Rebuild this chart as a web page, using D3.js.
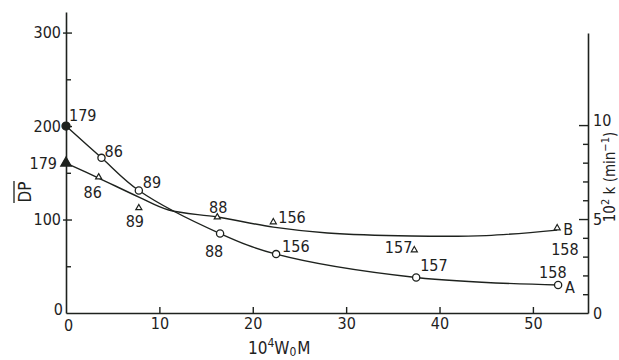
<!DOCTYPE html>
<html>
<head>
<meta charset="utf-8">
<script src="https://cdn.jsdelivr.net/npm/d3@7"></script>
<style>
  body { margin: 0; background: #fff; }
  svg { display: block; font-family: "DejaVu Sans Condensed", "Liberation Sans Narrow", sans-serif; }
</style>
</head>
<body>
<svg id="chart" width="619" height="360"></svg>
<script>
// curve A: DP (left axis), open circles ; curve B: 10^2 k (right axis), triangles
const wA = [0, 3.8, 7.8, 16.5, 22.5, 37.5, 52.7];
const dpA = [200, 166, 131, 85, 63, 38, 30];
const sampleA = ["179", "86", "89", "88", "156", "157", "158"];

const wB = [0, 3.5, 7.8, 16.2, 22.2, 37.3, 52.6];
const kB = [7.98, 7.23, 5.59, 5.1, 4.84, 3.35, 4.52];
const sampleB = ["179", "86", "89", "88", "156", "157", "158"];

// smoothed line drawn by hand through the triangles
const fitW = [0, 3.5, 7.8, 11, 16.2, 22.2, 28, 37, 45, 52.6];
const fitK = [7.98, 7.18, 6.17, 5.48, 5.11, 4.57, 4.26, 4.1, 4.12, 4.41];

const xTicks = [0, 10, 20, 30, 40, 50];
const dpTicks = [0, 50, 100, 150, 200, 250, 300];
const kTicks = [0, 1, 2, 3, 4, 5, 6, 7, 8, 9, 10];

// label placement next to each marker: [dx, dy, anchor]
const offA = [[3, -5, "start"], [3, -1, "start"], [4, -3, "start"], [-6, 23, "middle"],
  [6, -2, "start"], [4, -6, "start"], [-19, -7, "start"]];
const offB = [[-9, 6, "end"], [-6, 21, "middle"], [-4, 19, "middle"], [1, -4, "middle"],
  [5, 1, "start"], [-2, 3, "end"], [-6, 27, "start"]];

const ink = "#1e221e";
const svg = d3.select("#chart");

const x = d3.scaleLinear().domain([0, 55.9]).range([66, 588]);
const yL = d3.scaleLinear().domain([0, 322]).range([313, 12]);
const yR = d3.scaleLinear().domain([0, 14.9]).range([313, 33]);

function styleAxis(g) {
  g.attr("font-family", null).attr("font-size", 16);
  g.select(".domain").attr("stroke", ink).attr("stroke-width", 1.6);
  g.selectAll(".tick line").attr("stroke", ink).attr("stroke-width", 1.4);
  g.selectAll(".tick text").attr("fill", ink);
}

// x axis
svg.append("g")
  .attr("transform", "translate(0,313)")
  .call(d3.axisBottom(x).tickValues(xTicks).tickSizeInner(-6).tickSizeOuter(0).tickPadding(5))
  .call(styleAxis)
  .call(g => g.selectAll(".tick line").filter(d => d === 0).remove())
  .call(g => g.selectAll(".tick text").filter(d => d === 0).attr("x", 2).attr("y", 7));

// left axis (DP)
svg.append("g")
  .attr("transform", `translate(${x(0)},0)`)
  .call(d3.axisLeft(yL).tickValues(dpTicks).tickSizeInner(-5).tickSizeOuter(0).tickPadding(5)
    .tickFormat(d => d % 100 === 0 ? d : ""))
  .call(styleAxis)
  .call(g => g.selectAll(".tick line").filter(d => d % 100 === 0 && d > 0).attr("x1", -3).attr("x2", 6))
  .call(g => g.selectAll(".tick line").filter(d => d === 0).remove())
  .call(g => g.selectAll(".tick text").filter(d => d === 0).attr("x", -3).attr("dy", "0.1em"));

// right axis (10^2 k)
svg.append("g")
  .attr("transform", `translate(${x(55.9)},0)`)
  .call(d3.axisRight(yR).tickValues(kTicks).tickSizeInner(-5).tickSizeOuter(0).tickPadding(5)
    .tickFormat(d => d % 5 === 0 ? d : ""))
  .call(styleAxis)
  .call(g => g.selectAll(".tick line").filter(d => d % 5 === 0 && d > 0).attr("x2", -9))
  .call(g => g.selectAll(".tick line").filter(d => d === 0).remove())
  .call(g => g.selectAll(".tick text").filter(d => d === 10).attr("dy", "0.05em"));

// curves
const ptsA = wA.map((w, i) => [x(w), yL(dpA[i])]);
const ptsB = wB.map((w, i) => [x(w), yR(kB[i])]);
const fitB = fitW.map((w, i) => [x(w), yR(fitK[i])]);

const line = d3.line().curve(d3.curveCatmullRom.alpha(0.5));
svg.append("path").attr("d", line(ptsA))
  .attr("fill", "none").attr("stroke", ink).attr("stroke-width", 1.4);
svg.append("path").attr("d", line(fitB))
  .attr("fill", "none").attr("stroke", ink).attr("stroke-width", 1.4);

// markers
svg.append("g").selectAll("circle")
  .data(ptsA)
  .enter()
  .append("circle")
  .attr("cx", d => d[0])
  .attr("cy", d => d[1])
  .attr("r", (d, i) => i === 0 ? 4 : 3.6)
  .attr("fill", (d, i) => i === 0 ? ink : "#fff")
  .attr("stroke", ink)
  .attr("stroke-width", 1.3);

svg.append("g").selectAll("path")
  .data(ptsB)
  .enter()
  .append("path")
  .attr("d", (d, i) => d3.symbol(d3.symbolTriangle, i === 0 ? 48 : 16)())
  .attr("transform", d => `translate(${d[0]},${d[1]})`)
  .attr("fill", (d, i) => i === 0 ? ink : "#fff")
  .attr("stroke", ink)
  .attr("stroke-width", 1.2);

// sample numbers beside the markers
function labels(pts, names, off) {
  svg.append("g").selectAll("text")
    .data(pts)
    .enter()
    .append("text")
    .attr("x", (d, i) => d[0] + off[i][0])
    .attr("y", (d, i) => d[1] + off[i][1])
    .attr("text-anchor", (d, i) => off[i][2])
    .attr("font-size", 16)
    .attr("fill", ink)
    .text((d, i) => names[i]);
}
labels(ptsA, sampleA, offA);
labels(ptsB, sampleB, offB);

const endA = ptsA[ptsA.length - 1];
const endB = ptsB[ptsB.length - 1];
svg.append("text").attr("x", endA[0] + 7).attr("y", endA[1] + 8)
  .attr("font-size", 16).attr("fill", ink).text("A");
svg.append("text").attr("x", endB[0] + 6).attr("y", endB[1] + 7)
  .attr("font-size", 16).attr("fill", ink).text("B");

// axis titles
const left = svg.append("g").attr("transform", "translate(25,192) rotate(-90)");
left.append("text").attr("text-anchor", "middle").attr("y", 6)
  .attr("font-size", 17).attr("fill", ink).text("DP");
left.append("line").attr("x1", -11).attr("x2", 11).attr("y1", -11).attr("y2", -11)
  .attr("stroke", ink).attr("stroke-width", 1.3);

const right = svg.append("g").attr("transform", "translate(611,177) rotate(-90)")
  .append("text").attr("text-anchor", "middle").attr("y", 4)
  .attr("font-size", 15).attr("fill", ink);
right.append("tspan").text("10");
right.append("tspan").attr("dy", -6).attr("font-size", 11).text("2");
right.append("tspan").attr("dy", 6).text(" k (min");
right.append("tspan").attr("dy", -6).attr("font-size", 11).text("\u22121");
right.append("tspan").attr("dy", 6).text(")");

const xt = svg.append("text").attr("x", 248).attr("y", 354)
  .attr("font-size", 17).attr("fill", ink);
xt.append("tspan").text("10");
xt.append("tspan").attr("dy", -7).attr("font-size", 12).text("4");
xt.append("tspan").attr("dy", 7).text("W");
xt.append("tspan").attr("dy", 2).attr("font-size", 12).text("0");
xt.append("tspan").attr("dy", -2).attr("dx", 1).text("M");
</script>
</body>
</html>
